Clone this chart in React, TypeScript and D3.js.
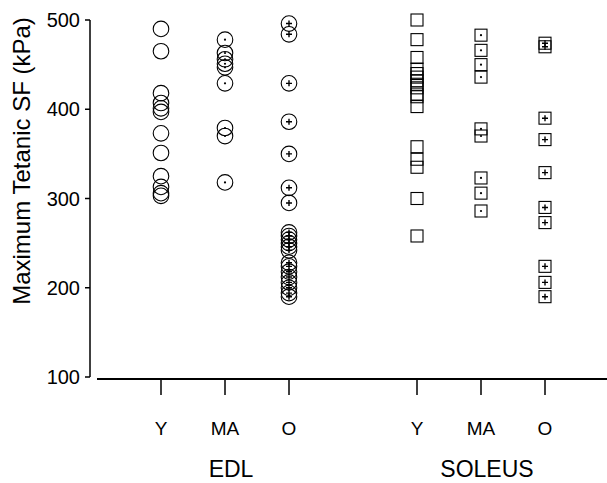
import React from "react";
import * as d3 from "d3";

// groups on the x axis (slot index leaves a gap between muscles)
const ageLabels = ["Y", "MA", "O", "Y", "MA", "O"];
const slots = [0, 1, 2, 4, 5, 6];
const muscles = ["EDL", "SOLEUS"];
const yTicks = [100, 200, 300, 400, 500];

// Maximum tetanic specific force (kPa)
const edlY = [490, 465, 418, 407, 401, 397, 373, 351, 325, 313, 306, 303];
const edlMA = [478, 463, 456, 451, 447, 429, 379, 370, 318];
const edlO = [496, 484, 429, 386, 350, 312, 295, 262, 258, 254, 250, 246, 242, 228, 224, 218, 212, 206, 200, 194, 190];
const solY = [500, 478, 458, 445, 440, 436, 432, 428, 424, 417, 414, 403, 358, 344, 335, 300, 258];
const solMA = [483, 466, 450, 436, 378, 370, 323, 306, 286];
const solO = [474, 470, 390, 366, 329, 290, 273, 224, 206, 190];

const series = [
  { values: edlY, shape: "circle", inner: "none" },
  { values: edlMA, shape: "circle", inner: "dot" },
  { values: edlO, shape: "circle", inner: "plus" },
  { values: solY, shape: "square", inner: "none" },
  { values: solMA, shape: "square", inner: "dot" },
  { values: solO, shape: "square", inner: "plus" },
];

const font = "Arial, 'Liberation Sans', Helvetica, sans-serif";

export default function App() {
  const width = 607,
    height = 483;

  const y = d3.scaleLinear().domain([100, 500]).range([377, 20]);
  const x = d3.scaleLinear().domain([0, 6]).range([161, 545]);

  const axisX = 90;
  const baseY = 379;

  const marker = (shape: string, inner: string, cx: number, cy: number, key: string) => {
    const r = 7.8;
    const s = 6;
    return (
      <g key={key}>
        {shape === "circle" ? (
          <circle cx={cx} cy={cy} r={r} fill="none" stroke="#000" strokeWidth={1.1} />
        ) : (
          <rect x={cx - s} y={cy - s} width={s * 2} height={s * 2} fill="none" stroke="#000" strokeWidth={1.1} />
        )}
        {inner === "dot" && <circle cx={cx} cy={cy} r={1.1} fill="#000" />}
        {inner === "plus" && (
          <path
            d={`M${cx - 3},${cy}H${cx + 3}M${cx},${cy - 3}V${cy + 3}`}
            stroke="#000"
            strokeWidth={1.4}
          />
        )}
      </g>
    );
  };

  return (
    <svg width={width} height={height} style={{ position: "absolute", left: 0, top: 0, background: "#fff" }}>
      <rect width={width} height={height} fill="#fff" />

      {/* y axis */}
      <line x1={axisX} x2={axisX} y1={y(500)} y2={y(100)} stroke="#000" strokeWidth={1.5} />
      {yTicks.map((t) => (
        <g key={t}>
          <line x1={axisX - 5} x2={axisX} y1={y(t)} y2={y(t)} stroke="#000" strokeWidth={1.5} />
          <text
            x={axisX - 10}
            y={y(t)}
            dy="0.35em"
            textAnchor="end"
            fontFamily={font}
            fontSize={20}
            fill="#000"
          >
            {t}
          </text>
        </g>
      ))}
      <text
        transform={`translate(30,${161}) rotate(-90)`}
        textAnchor="middle"
        fontFamily={font}
        fontSize={24}
        fill="#000"
      >
        Maximum Tetanic SF (kPa)
      </text>

      {/* x axis */}
      <line x1={97} x2={width} y1={baseY} y2={baseY} stroke="#000" strokeWidth={2} />
      {slots.map((s, i) => (
        <g key={i}>
          <line x1={x(s)} x2={x(s)} y1={baseY} y2={baseY + 16} stroke="#000" strokeWidth={1.5} />
          <text x={x(s)} y={435} textAnchor="middle" fontFamily={font} fontSize={19} fill="#000">
            {ageLabels[i]}
          </text>
        </g>
      ))}
      {muscles.map((m, i) => (
        <text
          key={m}
          x={x(slots[i * 3 + 1]) + 6}
          y={477}
          textAnchor="middle"
          fontFamily={font}
          fontSize={23}
          fill="#000"
        >
          {m}
        </text>
      ))}

      {/* data points */}
      {series.map((sr, i) =>
        sr.values.map((v, j) => marker(sr.shape, sr.inner, x(slots[i]), y(v), `${i}-${j}`))
      )}
    </svg>
  );
}
